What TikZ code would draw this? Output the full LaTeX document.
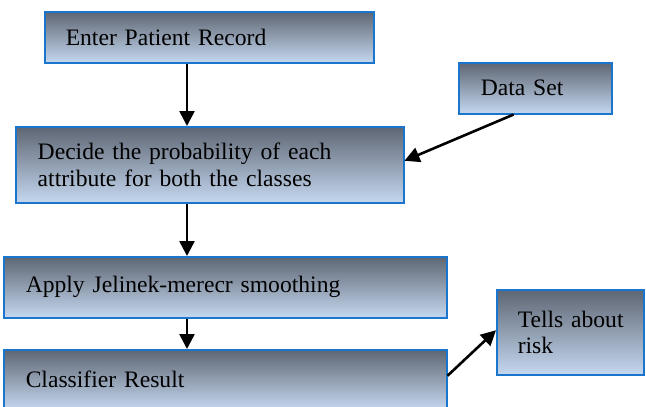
\documentclass[tikz,border=0pt]{standalone}
\usepackage{fontspec}
\setmainfont[WordSpace=0.7]{Liberation Serif}
\usetikzlibrary{arrows.meta,calc}

\definecolor{boxedge}{HTML}{1A76CC}
\definecolor{boxtop}{HTML}{5E6673}
\definecolor{boxbottom}{HTML}{C5D8F0}

\tikzset{
  stepbox/.style args={#1/#2/#3}{% width / height / left padding
    draw=boxedge, line width=1.5pt,
    top color=boxtop, bottom color=boxbottom,
    rectangle, anchor=north west,
    minimum width=#1pt, minimum height=#2pt,
    inner xsep=#3pt, inner ysep=0pt,
    text width=#1pt-2*#3pt, align=left,
    font=\fontsize{23.6}{26.5}\selectfont
  },
  flowarrow/.style={line width=2.6pt,
    -{Triangle[length=15pt,width=15pt]}}
}

\begin{document}
\begin{tikzpicture}[x=1pt,y=-1pt]
  \useasboundingbox (0,0) rectangle (646,407);

  \coordinate (spine) at (187,0);

  \node[stepbox=329/51/21] (rec)   at (44,11)  {Enter Patient Record};
  \node[stepbox=388/76/22] (prob)  at (15,126) {Decide the probability of each\\attribute for both the classes};
  \node[stepbox=153/51/22] (data)  at (458,62) {Data Set};
  \node[stepbox=443/61/22] (smooth) at (3,256) {Apply Jelinek-merecr smoothing};
  \node[stepbox=443/60/22] (result) at (3,349) {Classifier Result};
  \node[stepbox=147/85/21] (risk)  at (496,289) {Tells~about\\risk};

  \draw[flowarrow] (rec.south -| spine) -- (prob.north -| spine);
  \draw[flowarrow] (prob.south -| spine) -- (smooth.north -| spine);
  \draw[flowarrow] (smooth.south -| spine) -- (result.north -| spine);
  \draw[flowarrow] ($(data.south west)!0.36!(data.south east)$) -- ([yshift=4pt]prob.east);
  \draw[flowarrow] ([yshift=4pt]result.east) -- ([yshift=2pt]risk.west);
\end{tikzpicture}
\end{document}
